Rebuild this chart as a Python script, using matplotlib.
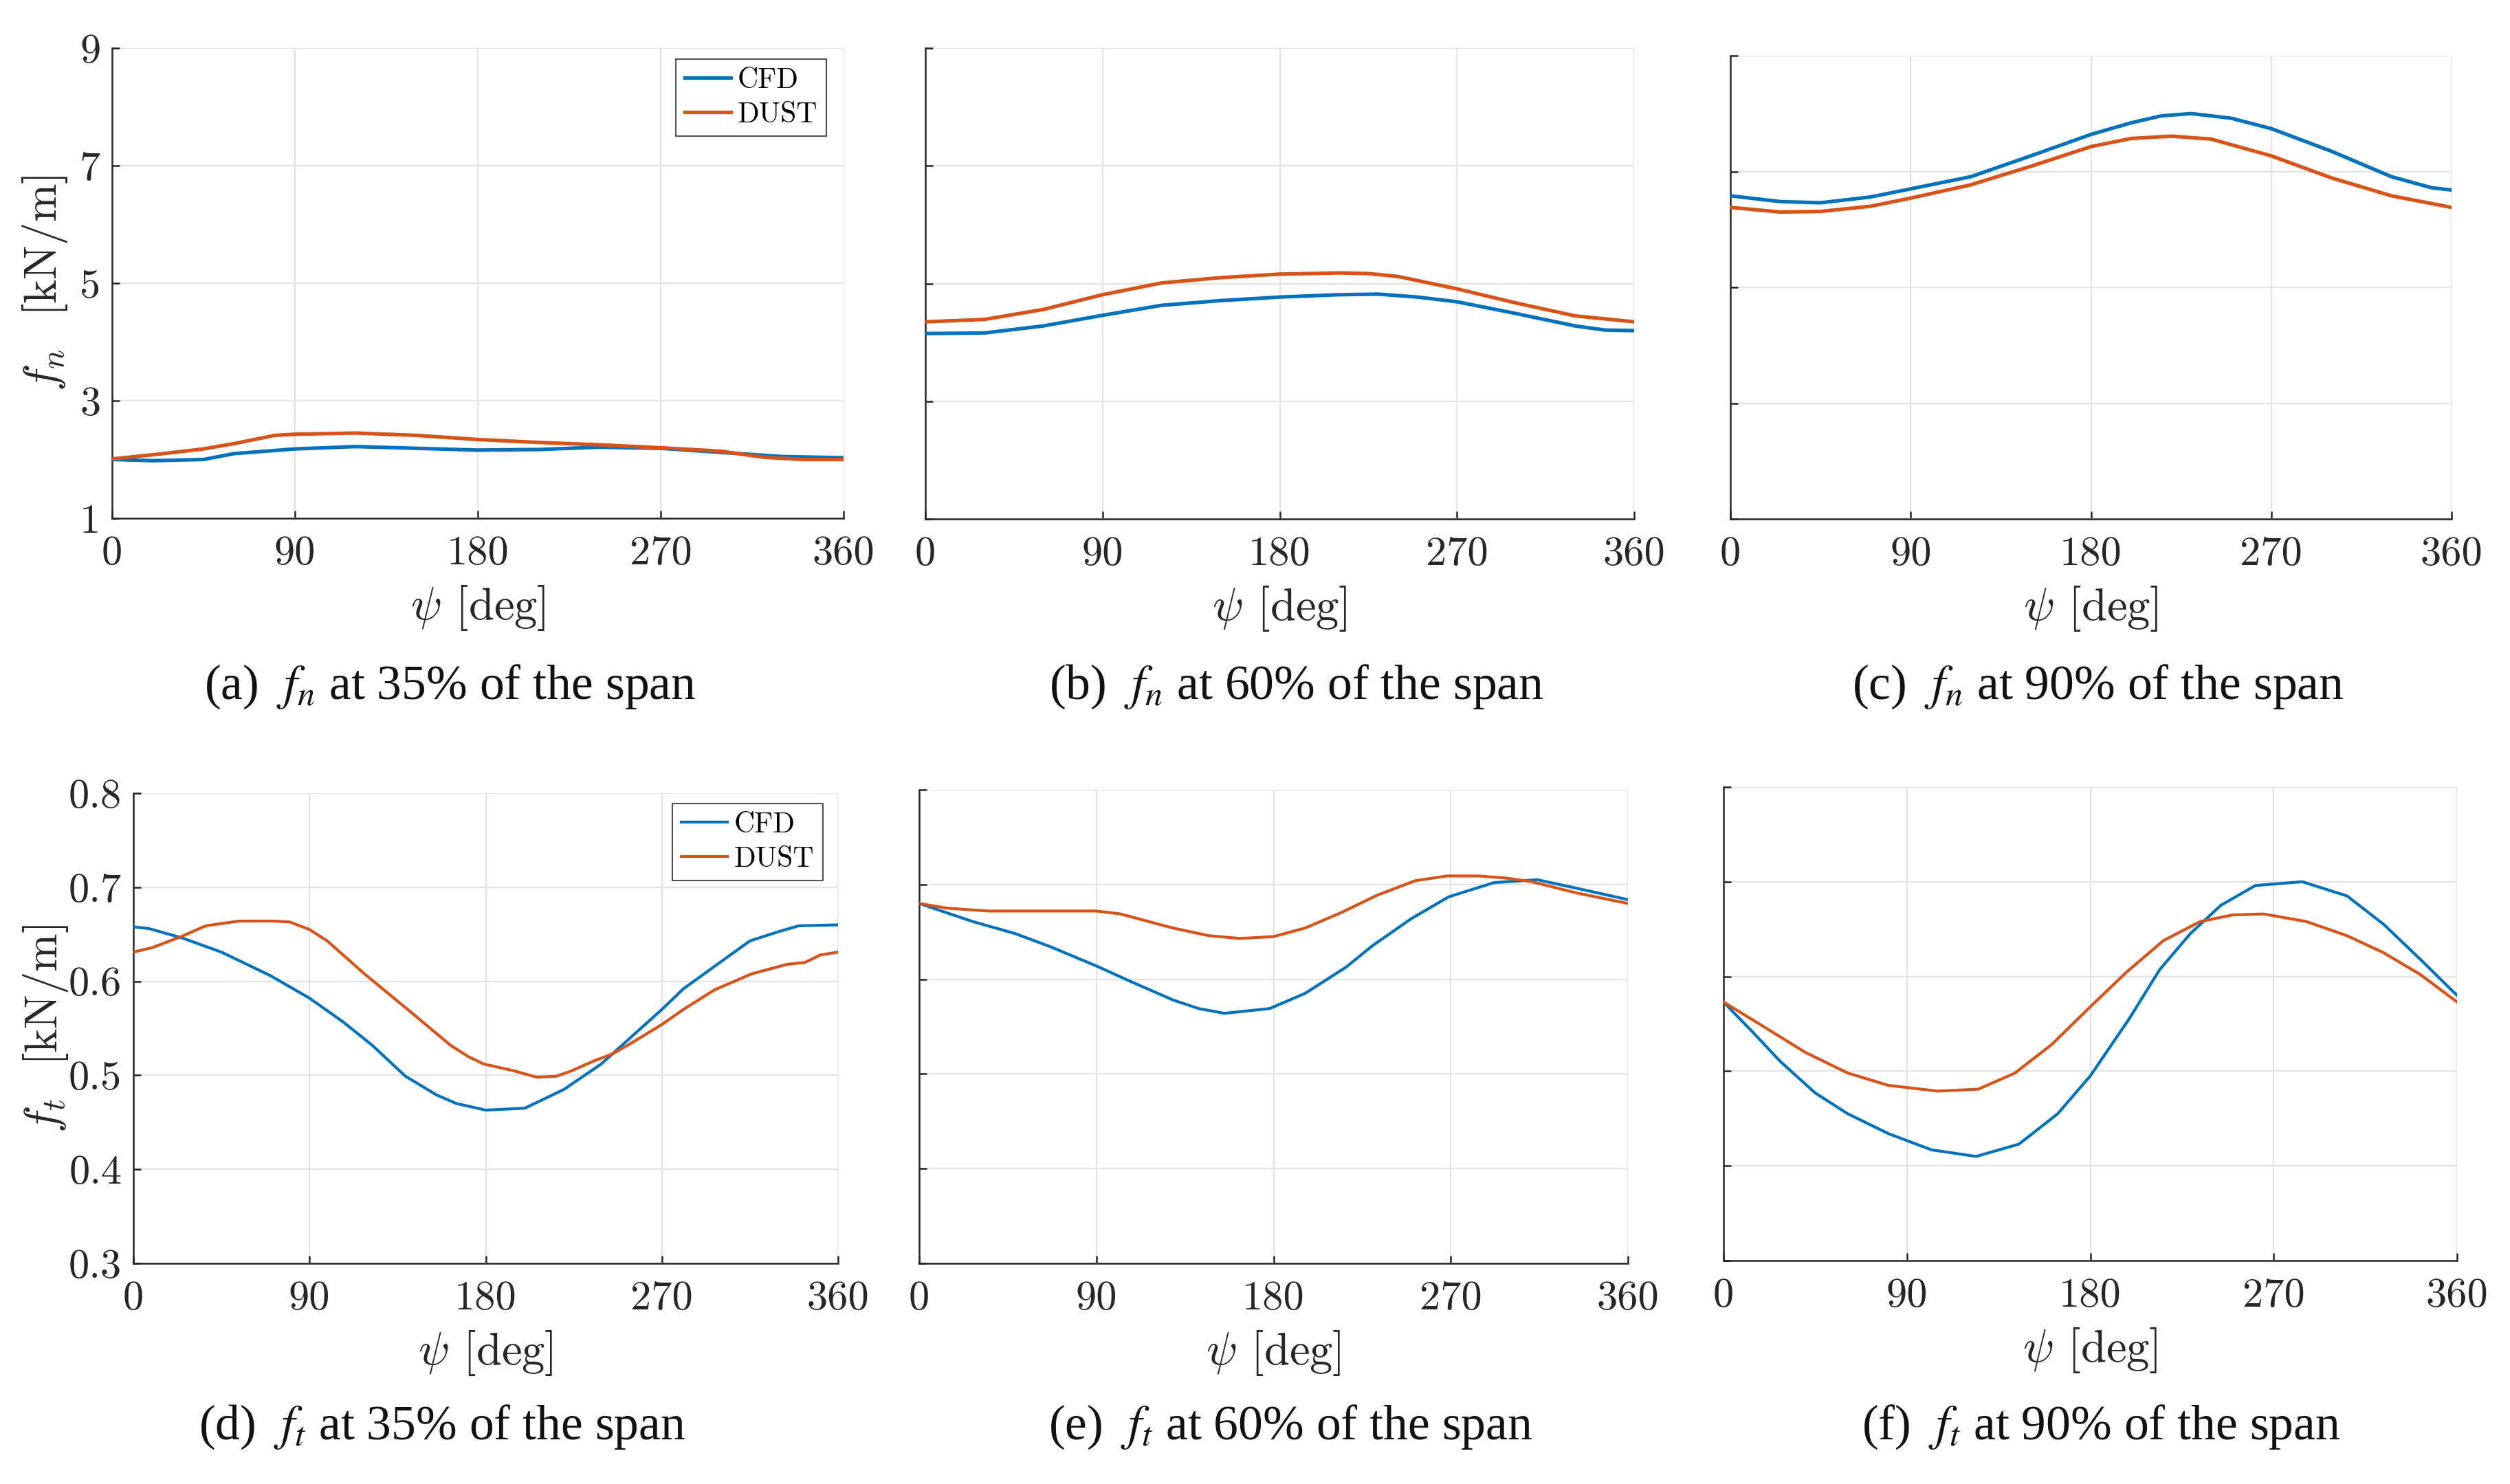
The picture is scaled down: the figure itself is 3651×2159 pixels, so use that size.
import matplotlib
matplotlib.use('Agg')
import matplotlib.pyplot as plt

# ---------------- data ----------------
psi_ticks = [0, 90, 180, 270, 360]
fn_ticks = [1, 3, 5, 7, 9]
ft_ticks = [0.3, 0.4, 0.5, 0.6, 0.7, 0.8]
ft_ticklabels = ['0.3', '0.4', '0.5', '0.6', '0.7', '0.8']
series_names = ['CFD', 'DUST']

# (a) fn at 35 %
psi_a_cfd = [0, 20, 45, 60, 90, 120, 150, 180, 210, 240, 270, 300, 330, 360]
fn35_cfd = [2.00, 1.98, 2.00, 2.10, 2.18, 2.22, 2.19, 2.16, 2.17, 2.21, 2.19, 2.12, 2.05, 2.03]
psi_a_dust = [0, 20, 45, 60, 80, 90, 120, 150, 180, 210, 240, 270, 300, 320, 340, 360]
fn35_dust = [2.01, 2.08, 2.18, 2.27, 2.41, 2.43, 2.45, 2.41, 2.34, 2.29, 2.25, 2.20, 2.14, 2.04, 2.00, 2.00]

# (b) fn at 60 %
psi_b_cfd = [0, 30, 60, 90, 120, 150, 180, 210, 230, 250, 270, 300, 330, 345, 360]
fn60_cfd = [4.15, 4.16, 4.28, 4.46, 4.63, 4.71, 4.77, 4.81, 4.82, 4.77, 4.69, 4.49, 4.28, 4.21, 4.20]
psi_b_dust = [0, 30, 60, 90, 120, 150, 180, 210, 225, 240, 270, 300, 330, 360]
fn60_dust = [4.35, 4.39, 4.56, 4.81, 5.01, 5.10, 5.16, 5.18, 5.17, 5.12, 4.91, 4.67, 4.45, 4.35]

# (c) fn at 90 %
psi_c_cfd = [0, 25, 45, 70, 90, 120, 150, 180, 200, 215, 230, 250, 270, 300, 330, 350, 360]
fn90_cfd = [6.58, 6.48, 6.46, 6.56, 6.70, 6.91, 7.27, 7.64, 7.84, 7.96, 8.00, 7.92, 7.74, 7.35, 6.91, 6.72, 6.68]
psi_c_dust = [0, 25, 45, 70, 90, 120, 150, 180, 200, 220, 240, 270, 300, 330, 360]
fn90_dust = [6.38, 6.30, 6.31, 6.40, 6.54, 6.77, 7.09, 7.43, 7.57, 7.61, 7.56, 7.27, 6.89, 6.58, 6.38]

# (d) ft at 35 %
psi_d_cfd = [0, 8, 25, 45, 70, 90, 107, 122, 139, 155, 165, 180, 200, 220, 239, 255, 270, 281, 299, 315, 330, 340, 360]
ft35_cfd = [0.658, 0.656, 0.646, 0.631, 0.606, 0.582, 0.557, 0.532, 0.499, 0.479, 0.470, 0.463, 0.465, 0.485,
            0.512, 0.542, 0.570, 0.592, 0.619, 0.643, 0.653, 0.659, 0.660]
psi_d_dust = [0, 10, 25, 37, 54, 72, 80, 90, 99, 118, 139, 162, 171, 179, 194, 206, 216, 223, 235, 245, 255,
              270, 281, 297, 316, 334, 343, 351, 360]
ft35_dust = [0.631, 0.636, 0.648, 0.659, 0.664, 0.664, 0.663, 0.655, 0.643, 0.608, 0.572, 0.532, 0.520, 0.512,
             0.505, 0.498, 0.499, 0.504, 0.515, 0.523, 0.535, 0.554, 0.570, 0.591, 0.608, 0.618, 0.620, 0.628, 0.631]

# (e) ft at 60 %
psi_e_cfd = [0, 27, 49, 67, 90, 107, 129, 142, 155, 178, 196, 217, 230, 250, 269, 292, 314, 334, 360]
ft60_cfd = [0.680, 0.661, 0.648, 0.634, 0.614, 0.598, 0.578, 0.569, 0.564, 0.569, 0.585, 0.613, 0.635, 0.664,
            0.687, 0.702, 0.705, 0.696, 0.684]
psi_e_dust = [0, 14, 35, 90, 102, 129, 147, 163, 180, 196, 214, 233, 252, 268, 284, 297, 311, 334, 360]
ft60_dust = [0.680, 0.675, 0.672, 0.672, 0.669, 0.654, 0.646, 0.643, 0.645, 0.654, 0.670, 0.689, 0.704, 0.709,
             0.709, 0.707, 0.703, 0.691, 0.680]

# (f) ft at 90 %
psi_f_cfd = [0, 14, 28, 45, 61, 81, 102, 124, 145, 164, 180, 199, 214, 229, 244, 261, 284, 306, 324, 342, 360]
ft90_cfd = [0.573, 0.542, 0.510, 0.477, 0.455, 0.434, 0.417, 0.410, 0.423, 0.455, 0.495, 0.555, 0.607, 0.645,
            0.675, 0.696, 0.700, 0.685, 0.655, 0.618, 0.580]
psi_f_dust = [0, 19, 40, 61, 81, 105, 125, 143, 161, 180, 198, 216, 234, 250, 265, 286, 306, 324, 342, 360]
ft90_dust = [0.573, 0.548, 0.520, 0.498, 0.485, 0.479, 0.481, 0.498, 0.528, 0.568, 0.605, 0.638, 0.658, 0.665,
             0.666, 0.658, 0.643, 0.625, 0.602, 0.573]

captions = ['(a)  $f_n$ at 35% of the span', '(b)  $f_n$ at 60% of the span', '(c)  $f_n$ at 90% of the span',
            '(d)  $f_t$ at 35% of the span', '(e)  $f_t$ at 60% of the span', '(f)  $f_t$ at 90% of the span']

# ---------------- layout ----------------
W, H, DPI = 3651, 2159, 300
fig = plt.figure(figsize=(W / DPI, H / DPI), dpi=DPI)
fig.patch.set_facecolor('white')

C_CFD = '#0072BD'
C_DUST = '#D95319'
SPINE = '#262626'

# pixel boxes: left, right, top, bottom
boxes = [(163, 1227, 70, 754), (1346, 2377, 70, 755), (2517, 3566, 81, 755),
         (194, 1219, 1154, 1838), (1337, 2368, 1149, 1838), (2507, 3574, 1145, 1834)]
cap_pos = [(655, 999), (1886, 999), (3052, 999), (643, 2076), (1877, 2076), (3056, 2076)]

panels = [
    (psi_a_cfd, fn35_cfd, psi_a_dust, fn35_dust),
    (psi_b_cfd, fn60_cfd, psi_b_dust, fn60_dust),
    (psi_c_cfd, fn90_cfd, psi_c_dust, fn90_dust),
    (psi_d_cfd, ft35_cfd, psi_d_dust, ft35_dust),
    (psi_e_cfd, ft60_cfd, psi_e_dust, ft60_dust),
    (psi_f_cfd, ft90_cfd, psi_f_dust, ft90_dust),
]

for i, (box, data) in enumerate(zip(boxes, panels)):
    l, r, t, b = box
    ax = fig.add_axes([l / W, 1 - b / H, (r - l) / W, (b - t) / H])
    top_row = i < 3
    lw = 1.25 if top_row else 1.0
    x1, y1, x2, y2 = data
    ax.plot(x1, y1, color=C_CFD, lw=lw, label=series_names[0], zorder=3, solid_joinstyle='round')
    ax.plot(x2, y2, color=C_DUST, lw=lw, label=series_names[1], zorder=3, solid_joinstyle='round')
    ax.set_xlim(0, 360)
    ax.set_xticks(psi_ticks)
    if top_row:
        ax.set_ylim(1, 9)
        ax.set_yticks(fn_ticks)
    else:
        ax.set_ylim(0.3, 0.8)
        ax.set_yticks(ft_ticks)
        ax.set_yticklabels(ft_ticklabels)
    for s in ['top', 'right']:
        ax.spines[s].set_visible(False)
    for s in ['left', 'bottom']:
        ax.spines[s].set_color(SPINE)
        ax.spines[s].set_linewidth(0.6)
    ax.grid(True, color='#e3e3e3', lw=0.5, zorder=0)
    ax.set_axisbelow(True)
    ax.tick_params(direction='in', length=2.6, width=0.6, color=SPINE, labelcolor=SPINE,
                   labelsize=14.5, labelfontfamily='cmr10')
    ax.tick_params(axis='x', pad=6)
    ax.tick_params(axis='y', pad=4)
    if i % 3 != 0:
        ax.tick_params(axis='y', labelleft=False)
    ax.set_xlabel(r'$\psi$ [deg]', fontsize=16, fontfamily='cmr10', math_fontfamily='cm',
                  color=SPINE, labelpad=4)
    if i == 0:
        ax.set_ylabel('$f_n$  [kN/m]', fontsize=16, fontfamily='cmr10', math_fontfamily='cm', color=SPINE)
        ax.yaxis.set_label_coords(-0.058, 0.5)
    if i == 3:
        ax.set_ylabel('$f_t$  [kN/m]', fontsize=16, fontfamily='cmr10', math_fontfamily='cm', color=SPINE)
        ax.yaxis.set_label_coords(-0.09, 0.5)
    if i in (0, 3):
        if i == 0:
            anchor = ((1202 - l) / (r - l), 1 - (86 - t) / (b - t))
        else:
            anchor = ((1197 - l) / (r - l), 1 - (1169 - t) / (b - t))
        leg = ax.legend(loc='upper right', bbox_to_anchor=anchor, borderaxespad=0,
                        prop={'family': 'cmr10', 'size': 10}, frameon=True, fancybox=False,
                        handlelength=1.6, handletextpad=0.25, labelspacing=0.3, borderpad=0.3)
        leg.get_frame().set_edgecolor('#262626')
        leg.get_frame().set_linewidth(0.5)
    cx, cy = cap_pos[i]
    fig.text(cx / W, 1 - cy / H, captions[i], ha='center', va='center', fontsize=17.2,
             fontfamily='Liberation Serif', math_fontfamily='stix', color='#111111')

fig.savefig('out.png', dpi=DPI, facecolor='white')
